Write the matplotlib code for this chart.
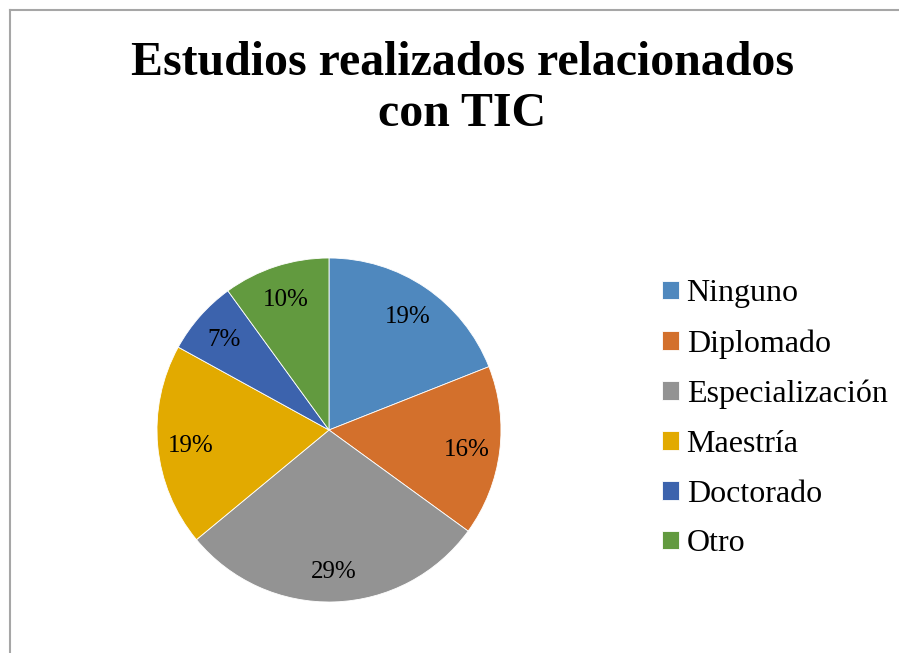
import matplotlib
matplotlib.use("Agg")
import matplotlib.pyplot as plt
from matplotlib.lines import Line2D

categories = ["Ninguno", "Diplomado", "Especialización", "Maestría", "Doctorado", "Otro"]
values = [19, 16, 29, 19, 7, 10]
colors = ["#4F88BE", "#D3702C", "#939393", "#E2AA00", "#3C63AD", "#629A3F"]
title = "Estudios realizados relacionados\ncon TIC"

plt.rcParams['font.family'] = ['Liberation Serif', 'DejaVu Serif']

fig = plt.figure(figsize=(8.99, 6.53), dpi=100)
ax = fig.add_axes([0.1746, 0.0781, 0.3827, 0.5268])
wedges, texts, autotexts = ax.pie(
    values, colors=colors, startangle=90, counterclock=False,
    autopct=lambda p: f"{p:.0f}%", pctdistance=0.81,
    wedgeprops=dict(edgecolor="white", linewidth=0.6),
    textprops=dict(fontsize=18, color="black"))
for t in autotexts:
    t.set_va('center_baseline')
ax.set_xlim(-1, 1)
ax.set_ylim(-1, 1)
ax.set_aspect('equal')

fig.text(0.514, 0.937, title, ha='center', va='top', fontsize=34.5,
         fontweight='bold', linespacing=1.2)

leg = fig.legend(wedges, categories, loc='upper left',
                 bbox_to_anchor=(662/899, 0.572), frameon=False,
                 fontsize=23, handlelength=0.52, handleheight=0.52,
                 handletextpad=0.25, labelspacing=0.65, borderaxespad=0,
                 borderpad=0)

# outer border (top and left visible)
fig.add_artist(Line2D([10/899, 1.0], [1-9.5/653, 1-9.5/653], color="#A6A6A6",
                      linewidth=1.5, transform=fig.transFigure))
fig.add_artist(Line2D([10/899, 10/899], [0, 1-9.5/653], color="#A6A6A6",
                      linewidth=1.5, transform=fig.transFigure))

fig.savefig("out.png", dpi=100)
